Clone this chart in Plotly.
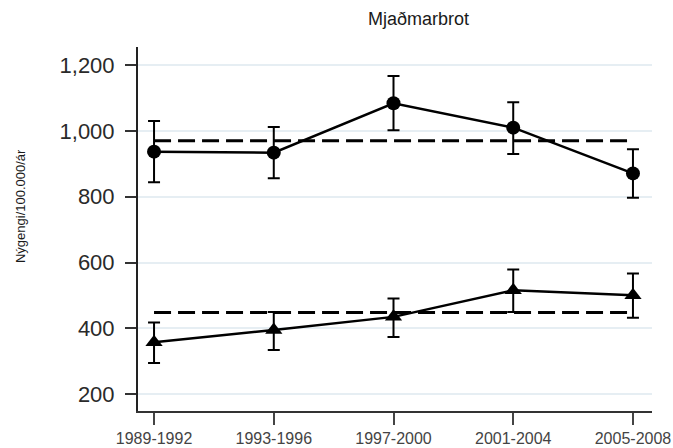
import plotly.graph_objects as go

# Incidence of hip fractures per 100,000 per year, by 4-year period
periods = ["1989-1992", "1993-1996", "1997-2000", "2001-2004", "2005-2008"]

circle_rate = [937, 934, 1084, 1010, 871]
circle_upper = [1030, 1012, 1167, 1087, 944]
circle_lower = [844, 856, 1002, 930, 797]
circle_mean = 970

triangle_rate = [358, 395, 435, 516, 501]
triangle_upper = [418, 450, 491, 579, 567]
triangle_lower = [295, 334, 374, 450, 432]
triangle_mean = 448

y_ticks = [200, 400, 600, 800, 1000, 1200]
y_tick_text = ["200", "400", "600", "800", "1,000", "1,200"]

xs = list(range(len(periods)))

fig = go.Figure()


def add_series(rate, upper, lower, symbol, size):
    fig.add_trace(go.Scatter(
        x=xs, y=rate, mode="lines+markers",
        line=dict(color="black", width=2.5),
        marker=dict(symbol=symbol, size=size, color="black"),
        error_y=dict(
            type="data", symmetric=False,
            array=[u - r for u, r in zip(upper, rate)],
            arrayminus=[r - l for r, l in zip(rate, lower)],
            color="black", thickness=2, width=6,
        ),
        showlegend=False,
    ))


def add_mean(value):
    fig.add_trace(go.Scatter(
        x=[xs[0], xs[-1]], y=[value, value], mode="lines",
        line=dict(color="black", width=3, dash="17px,7px"),
        showlegend=False,
    ))


add_mean(circle_mean)
add_mean(triangle_mean)
add_series(circle_rate, circle_upper, circle_lower, "circle", 14)
add_series(triangle_rate, triangle_upper, triangle_lower, "triangle-up", 15)

fig.update_layout(
    width=673, height=448,
    margin=dict(l=138, r=21, t=47, b=37),
    paper_bgcolor="white", plot_bgcolor="white",
    font=dict(family="Liberation Sans, Arial, sans-serif", color="#222"),
    annotations=[
        dict(text="Mjaðmarbrot", x=0.545, y=1, xref="paper", yref="paper",
             yshift=28, yanchor="middle", xanchor="center", showarrow=False,
             font=dict(size=18, color="#1a1a1a")),
        dict(text="Nýgengi/100.000/ár", x=0, y=0.563, xref="paper", yref="paper",
             xshift=-118, textangle=-90, showarrow=False,
             xanchor="center", yanchor="middle",
             font=dict(size=13, color="#1a1a1a")),
    ],
)

fig.update_xaxes(
    automargin=False,
    range=[-0.134, 4.159],
    tickmode="array", tickvals=xs, ticktext=periods,
    showgrid=False, zeroline=False,
    showline=True, linecolor="#333", linewidth=2,
    ticks="outside", ticklen=12, tickwidth=2, tickcolor="#444",
    tickfont=dict(size=16, color="#444"),
)

fig.update_yaxes(
    automargin=False,
    range=[149, 1255],
    tickmode="array", tickvals=y_ticks, ticktext=y_tick_text,
    showgrid=True, gridcolor="#e6eef3", gridwidth=1.5,
    zeroline=False,
    showline=True, linecolor="#222", linewidth=2,
    ticks="outside", ticklen=11, tickwidth=2, tickcolor="#333",
    ticklabelstandoff=6,
    tickfont=dict(size=22, color="#2a2a2a"),
)

fig.write_html("out.html")
